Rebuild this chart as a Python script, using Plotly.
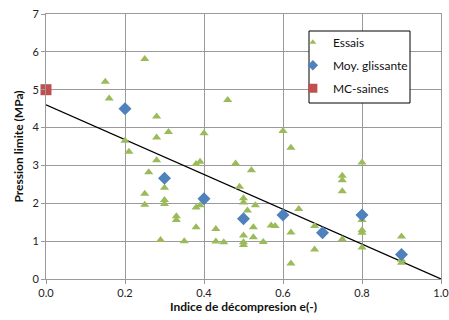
import plotly.graph_objects as go

essais_x = [0.15, 0.16, 0.25, 0.28, 0.31, 0.28, 0.20, 0.21, 0.28, 0.26, 0.30, 0.25, 0.30, 0.30, 0.25,
            0.33, 0.33, 0.29, 0.35, 0.38, 0.39, 0.40, 0.46, 0.48, 0.38, 0.39, 0.38, 0.43, 0.43, 0.45,
            0.49, 0.52, 0.50, 0.50, 0.53, 0.51, 0.525, 0.50, 0.525, 0.50, 0.50, 0.55, 0.57, 0.58,
            0.60, 0.62, 0.64, 0.62, 0.62, 0.68, 0.68, 0.75, 0.75, 0.75, 0.75, 0.80, 0.80, 0.80,
            0.80, 0.80, 0.90, 0.90, 0.90]
essais_y = [5.21, 4.77, 5.81, 4.29, 3.88, 3.74, 3.65, 3.36, 3.14, 2.82, 2.41, 2.25, 2.09, 1.98, 1.96,
            1.66, 1.56, 1.03, 1.00, 3.04, 3.10, 3.85, 4.73, 3.05, 1.89, 1.95, 1.37, 1.32, 0.99, 0.97,
            2.44, 2.87, 2.13, 2.02, 1.95, 1.81, 1.37, 1.15, 1.10, 0.97, 0.90, 0.98, 1.41, 1.40,
            3.91, 3.47, 1.85, 1.23, 0.41, 1.40, 0.78, 2.73, 2.61, 2.32, 1.05, 3.08, 1.56, 1.29,
            1.22, 0.83, 1.12, 0.51, 0.43]

moy_x = [0.2, 0.3, 0.4, 0.5, 0.6, 0.7, 0.8, 0.9]
moy_y = [4.5, 2.66, 2.12, 1.59, 1.69, 1.22, 1.69, 0.65]

mc_x = [0.0]
mc_y = [5.0]

trend_x = [0.0, 1.0]
trend_y = [4.6, 0.0]

x_ticks = [0.0, 0.2, 0.4, 0.6, 0.8, 1.0]
y_ticks = [0, 1, 2, 3, 4, 5, 6, 7]

series_names = ["Essais", "Moy. glissante", "MC-saines"]

FONT = "Lato, Carlito, Calibri, sans-serif"
GRID = "#9a9a9a"
C_TRI, C_DIA, C_SQ = "#9BBB59", "#4F81BD", "#C0504D"

fig = go.Figure()
fig.add_trace(go.Scatter(x=trend_x, y=trend_y, mode="lines",
                         line=dict(color="black", width=1.2), showlegend=False, hoverinfo="skip"))
fig.add_trace(go.Scatter(x=essais_x, y=essais_y, mode="markers", name=series_names[0],
                         showlegend=False,
                         marker=dict(symbol="triangle-up", size=8, color=C_TRI)))
fig.add_trace(go.Scatter(x=moy_x, y=moy_y, mode="markers", name=series_names[1],
                         showlegend=False,
                         marker=dict(symbol="diamond", size=10, color=C_DIA)))
fig.add_trace(go.Scatter(x=mc_x, y=mc_y, mode="markers", name=series_names[2],
                         showlegend=False, cliponaxis=False,
                         marker=dict(symbol="square", size=11, color=C_SQ)))

# legend entries (smaller symbols, like the original)
for nm, sym, sz, col, grp in [(series_names[0], "triangle-up", 6, C_TRI, "a"),
                              (series_names[1], "diamond", 8, C_DIA, "b"),
                              (series_names[2], "square", 9, C_SQ, "c")]:
    fig.add_trace(go.Scatter(x=[None], y=[None], mode="markers", name=nm, legendgroup=grp,
                             marker=dict(symbol=sym, size=sz, color=col)))

fig.update_layout(
    width=449, height=320,
    margin=dict(l=46, r=8, t=14, b=41, autoexpand=False),
    paper_bgcolor="white", plot_bgcolor="white",
    font=dict(family=FONT, size=11, color="#222"),
    legend=dict(x=0.625, y=0.948, xanchor="left", yanchor="top",
                borderwidth=0, bgcolor="rgba(0,0,0,0)",
                font=dict(family=FONT, size=12, color="#111"),
                tracegroupgap=4, traceorder="grouped",
                itemwidth=30),
    shapes=[dict(type="rect", xref="paper", yref="paper",
                 x0=(309 - 46) / 395, x1=(410 - 46) / 395,
                 y0=(279 - 103) / 265, y1=(279 - 31) / 265,
                 line=dict(color="black", width=1), fillcolor="white", layer="above")],
    xaxis=dict(range=[0, 1], tickvals=x_ticks, tickformat=".1f",
               showgrid=True, gridcolor=GRID, gridwidth=1,
               showline=True, linecolor=GRID, linewidth=1, mirror=True,
               ticks="outside", ticklen=4, tickcolor=GRID, zeroline=False,
               ticklabeloverflow="allow", automargin=False,
               title=dict(text="<b>Indice de décompresion e(-)</b>", standoff=2,
                          font=dict(family=FONT, size=12, color="#111"))),
    yaxis=dict(range=[0, 7], tickvals=y_ticks, automargin=False,
               showgrid=True, gridcolor=GRID, gridwidth=1,
               showline=True, linecolor=GRID, linewidth=1, mirror=True,
               ticks="outside", ticklen=4, tickcolor=GRID, zeroline=False,
               title=dict(text="<b>Pression limite (MPa)</b>", standoff=6,
                          font=dict(family=FONT, size=12, color="#111"))),
)

fig.write_html("out.html")
